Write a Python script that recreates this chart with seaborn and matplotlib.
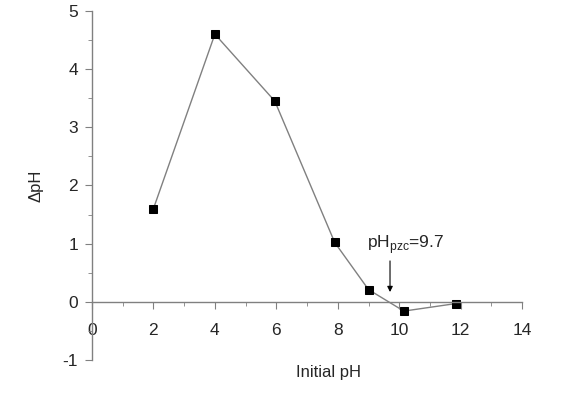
import numpy as np
import pandas as pd
import matplotlib
matplotlib.use('Agg')
import matplotlib.pyplot as plt
import seaborn as sns
from matplotlib.ticker import MultipleLocator

# 데이터
initial_ph = [2, 4, 5.95, 7.9, 9, 10.15, 11.85]
delta_ph = [1.6, 4.6, 3.45, 1.02, 0.21, -0.16, -0.03]
ph_pzc = 9.7

df = pd.DataFrame({'Initial pH': initial_ph, 'dpH': delta_ph})

sns.set_style('ticks')
plt.rcParams['font.family'] = ['Liberation Sans', 'DejaVu Sans']
plt.rcParams['axes.unicode_minus'] = False
plt.rcParams['mathtext.fontset'] = 'custom'
plt.rcParams['mathtext.rm'] = 'Liberation Sans'

fig = plt.figure(figsize=(5.66, 4.04), dpi=100)
ax = fig.add_axes([0.1625, 0.109, 0.76, 0.864])

sns.lineplot(data=df, x='Initial pH', y='dpH', ax=ax, color='#808080', linewidth=1,
             marker='s', markersize=6, markerfacecolor='black', markeredgecolor='black',
             sort=False, clip_on=False)

ax.set_xlim(0, 14)
ax.set_ylim(-1, 5)

# 축 모양
ax.spines['top'].set_visible(False)
ax.spines['right'].set_visible(False)
ax.spines['bottom'].set_position(('data', 0))
for s in ['left', 'bottom']:
    ax.spines[s].set_color('#808080')
    ax.spines[s].set_linewidth(1)

ax.xaxis.set_major_locator(MultipleLocator(2))
ax.xaxis.set_minor_locator(MultipleLocator(1))
ax.yaxis.set_major_locator(MultipleLocator(1))
ax.yaxis.set_minor_locator(MultipleLocator(0.5))
ax.tick_params(which='major', length=5, color='#808080', labelsize=12.5, pad=5)
ax.tick_params(which='minor', length=3, color='#808080')
ax.tick_params(axis='x', pad=10)

ax.set_xlabel('Initial pH', fontsize=12)
ax.xaxis.set_label_coords(0.55, -0.015)
ax.set_ylabel('ΔpH', fontsize=12, labelpad=14)

# pHpzc 화살표
ax.annotate('', xy=(ph_pzc, 0.12), xytext=(ph_pzc, 0.75),
            arrowprops=dict(arrowstyle='-|>', color='black', lw=0.8, mutation_scale=8))
ax.text(8.95, 0.92, r'pH$_{\rm pzc}$=9.7', fontsize=12.5, ha='left', va='baseline')

fig.savefig('out.png', dpi=100)
